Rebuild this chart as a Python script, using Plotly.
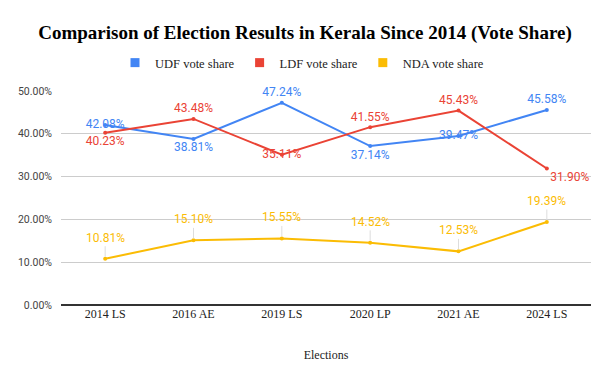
import plotly.graph_objects as go

elections = ["2014 LS", "2016 AE", "2019 LS", "2020 LP", "2021 AE", "2024 LS"]
udf_share = [42.08, 38.81, 47.24, 37.14, 39.47, 45.58]
ldf_share = [40.23, 43.48, 35.11, 41.55, 45.43, 31.90]
nda_share = [10.81, 15.10, 15.55, 14.52, 12.53, 19.39]
y_ticks = [0, 10, 20, 30, 40, 50]
series_names = ["UDF vote share", "LDF vote share", "NDA vote share"]

UDF_C = "#4285F4"
LDF_C = "#EA4335"
NDA_C = "#FBBC04"
SERIF = "Liberation Serif, Times New Roman, serif"
SANS = "Roboto, Arial, sans-serif"

udf_pos = ["middle center", "bottom center", "top center", "bottom center", "middle center", "top center"]
ldf_pos = ["bottom center", "top center", "middle center", "top center", "top center", "bottom right"]

def fmt(v):
    return f"{v:.2f}%"

fig = go.Figure()
fig.add_trace(go.Scatter(
    x=elections, y=udf_share, name=series_names[0], mode="lines+markers+text",
    line=dict(color=UDF_C, width=2), marker=dict(size=4, color=UDF_C),
    text=[fmt(v) for v in udf_share], textposition=udf_pos, cliponaxis=False,
    textfont=dict(family=SANS, size=12, color=UDF_C), showlegend=False,
))
fig.add_trace(go.Scatter(
    x=elections, y=ldf_share, name=series_names[1], mode="lines+markers+text",
    line=dict(color=LDF_C, width=2), marker=dict(size=4, color=LDF_C),
    text=[fmt(v) for v in ldf_share], textposition=ldf_pos, cliponaxis=False,
    textfont=dict(family=SANS, size=12, color=LDF_C), showlegend=False,
))
fig.add_trace(go.Scatter(
    x=elections, y=nda_share, name=series_names[2], mode="lines+markers",
    line=dict(color=NDA_C, width=2), marker=dict(size=4, color=NDA_C),
    cliponaxis=False, showlegend=False,
))
for name, col in zip(series_names, [UDF_C, LDF_C, NDA_C]):
    fig.add_trace(go.Scatter(
        x=[None], y=[None], name=name, mode="markers",
        marker=dict(symbol="square", size=9, color=col),
    ))
for e, v in zip(elections, nda_share):
    fig.add_annotation(
        x=e, y=v, text=fmt(v), showarrow=True, arrowhead=0, arrowwidth=1,
        arrowcolor="#dddddd", ax=0, ay=-21, standoff=2,
        font=dict(family=SANS, size=12, color=NDA_C),
    )

# page body has an 8px default margin, so the figure is 8px smaller each way
fig.update_layout(
    width=602, height=369,
    margin=dict(l=53, r=19, t=83, b=72, autoexpand=False),
    paper_bgcolor="white", plot_bgcolor="white",
    title=dict(text="<b>Comparison of Election Results in Kerala Since 2014 (Vote Share)</b>",
               x=(305 - 8) / 602, xanchor="center", y=1 - 24 / 369, yanchor="middle",
               font=dict(family=SERIF, size=19, color="#000000")),
    legend=dict(orientation="h", x=(302 - 61) / 530, xanchor="center", y=1 + 28 / 214, yanchor="middle",
                font=dict(family=SERIF, size=12.5, color="#222222"),
                itemwidth=30, tracegroupgap=0),
    showlegend=True,
    xaxis=dict(type="category", range=[-0.5, 5.5], showgrid=False, automargin=False,
               tickfont=dict(family=SERIF, size=12, color="#222222"),
               title=dict(text="Elections", font=dict(family=SERIF, size=12, color="#222222"), standoff=30),
               ticks="", showline=False, zeroline=False),
    yaxis=dict(range=[0, 50], tickvals=y_ticks, ticktext=[f"{t:.2f}%" for t in y_ticks],
               automargin=False,
               tickfont=dict(family=SANS, size=10.5, color="#444444"),
               gridcolor="#cccccc", gridwidth=1, zeroline=True, zerolinecolor="#333333",
               zerolinewidth=1.5, ticks="", ticklabelstandoff=8),
)
fig.write_html("out.html")
